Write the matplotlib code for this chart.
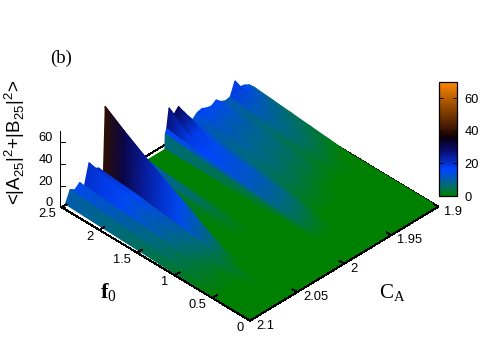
import numpy as np
import matplotlib
matplotlib.use('Agg')
import matplotlib.pyplot as plt
from matplotlib.colors import LinearSegmentedColormap, Normalize
from matplotlib.cm import ScalarMappable

plt.rcParams['font.family'] = ['Liberation Sans']
plt.rcParams['mathtext.fontset'] = 'custom'
plt.rcParams['mathtext.rm'] = 'Liberation Serif'
plt.rcParams['mathtext.bf'] = 'Liberation Serif:bold'
plt.rcParams['mathtext.sf'] = 'Liberation Sans'

# data
f0_values = [2.45, 2.2, 1.95, 1.7, 1.45, 1.2, 0.95, 0.7, 0.45, 0.2, 0]
ca_values = [1.9, 1.905, 1.91, 1.915, 1.92, 1.925, 1.93, 1.935, 1.94, 1.945,
             1.95, 1.955, 1.96, 1.965, 1.97, 1.975, 1.98, 1.985, 1.99, 1.9925,
             1.994, 1.9945, 2.015, 2.02, 2.025, 2.03, 2.035, 2.053, 2.0578,
             2.0599, 2.065, 2.07, 2.075, 2.08, 2.085, 2.09, 2.095, 2.1]
# one row per ca_values entry, one column per f0_values entry
amplitude = [
    [8, 6.4, 4.8, 3.2, 1.6, 0, 0, 0, 0, 0, 0],
    [12.6, 9, 6.5, 4.5, 2.5, 0, 0, 0, 0, 0, 0],
    [15, 10.5, 7.5, 5.5, 3.5, 1, 0, 0, 0, 0, 0],
    [16, 10.5, 7.5, 5.5, 3.5, 1, 0, 0, 0, 0, 0],
    [24, 15, 10.5, 8, 5, 2.5, 0, 0, 0, 0, 0],
    [12, 9, 7, 5.2, 3.4, 1.6, 0, 0, 0, 0, 0],
    [11, 8.5, 6.8, 5, 3.3, 1.5, 0, 0, 0, 0, 0],
    [13, 10, 8, 6.2, 4.4, 2.4, 0.4, 0, 0, 0, 0],
    [17, 12.5, 9.5, 7.5, 5.5, 3.2, 0.5, 0, 0, 0, 0],
    [14, 10.5, 8.5, 6.6, 4.8, 2.7, 0.5, 0, 0, 0, 0],
    [15, 11.5, 9.5, 7.5, 5.6, 3.5, 1.4, 0, 0, 0, 0],
    [17, 12.5, 10, 8, 6, 4, 1.5, 0, 0, 0, 0],
    [16, 12, 10, 8, 6.2, 4.4, 2.3, 0, 0, 0, 0],
    [12, 9.5, 8, 6.4, 5, 3.4, 1.7, 0, 0, 0, 0],
    [18, 13, 10.5, 8.7, 7, 5, 2.6, 0, 0, 0, 0],
    [25, 16, 13, 11, 9.5, 7.5, 4.7, 1.4, 0, 0, 0],
    [32, 20, 16.5, 15, 13.5, 11, 7.4, 3.3, 0, 0, 0],
    [27, 16, 13.5, 12, 10.5, 8, 5.5, 2.8, 0, 0, 0],
    [36, 22, 19, 17.5, 16, 13, 9.7, 5.3, 0.9, 0, 0],
    [18, 15.5, 13, 11, 9, 7, 5, 2.8, 0, 0, 0],
    [14, 12.2, 10.5, 8.7, 6.9, 5.2, 3.4, 1.4, 0, 0, 0],
    [0, 0, 0, 0, 0, 0, 0, 0, 0, 0, 0],
    [0, 0, 0, 0, 0, 0, 0, 0, 0, 0, 0],
    [6, 4.9, 3.8, 2.7, 1.6, 0.4, 0, 0, 0, 0, 0],
    [14, 11.6, 9.2, 6.8, 4.3, 1.9, 0, 0, 0, 0, 0],
    [10, 8.3, 6.6, 4.8, 3.1, 1.4, 0, 0, 0, 0, 0],
    [0, 0, 0, 0, 0, 0, 0, 0, 0, 0, 0],
    [0, 0, 0, 0, 0, 0, 0, 0, 0, 0, 0],
    [73, 61, 50, 40, 30, 20, 10, 0, 0, 0, 0],
    [6, 1, 0, 0, 0, 0, 0, 0, 0, 0, 0],
    [20, 18, 16.5, 14, 11.5, 9, 6.5, 4, 1.5, 0, 0],
    [22, 18.7, 15, 12, 9, 6, 3, 1, 0, 0, 0],
    [30, 26, 22, 17.8, 13.8, 9.7, 5.7, 1.6, 0, 0, 0],
    [11, 9.6, 8.2, 6.8, 5.4, 3.9, 2.5, 1.1, 0, 0, 0],
    [17, 14.8, 12.6, 10.5, 8.3, 6.1, 3.9, 1.7, 0, 0, 0],
    [13, 11.3, 9.7, 8, 6.3, 4.7, 3, 1.3, 0, 0, 0],
    [16, 13.9, 11.9, 9.8, 7.8, 5.7, 3.7, 1.6, 0, 0, 0],
    [5, 4.4, 3.8, 3.3, 2.7, 2.1, 1.5, 0.9, 0.3, 0, 0],
]
f0_ticks = [0, 0.5, 1, 1.5, 2, 2.5]
f0_labels = ['0', '0.5', '1', '1.5', '2', '2.5']
ca_ticks = [1.9, 1.95, 2, 2.05, 2.1]
ca_labels = ['1.9', '1.95', '2', '2.05', '2.1']
z_ticks = [0, 20, 40, 60]

cmap = LinearSegmentedColormap.from_list('pal', [
    (0.0, (0, 0.5, 0)),
    (6/70, (0, 0.43, 0.43)),
    (16/70, (0, 0.27, 1)),
    (28/70, (0.04, 0.04, 0.43)),
    (36/70, (0.04, 0, 0.04)),
    (40/70, (0.2, 0.06, 0)),
    (1.0, (1, 0.53, 0)),
])

# gnuplot style view: linear projection to picture pixels
def project(f, ca, z=0.0):
    f = np.asarray(f, dtype=float)
    ca = np.asarray(ca, dtype=float)
    u = f/2.5
    v = (2.1 - ca)/0.2
    x = 250 - 188.3*u + 188.3*v
    y = 320.7 - 113.4*u - 114*v - 1.083*np.asarray(z, dtype=float)
    return x, y

fig = plt.figure(figsize=(5, 3.5), dpi=100)
ax = fig.add_axes([0, 0, 1, 1])
ax.set_xlim(0, 500)
ax.set_ylim(350, 0)
ax.axis('off')

# box lines that sit behind the surface
for fs, cs in [([2.5, 2.5], [2.1, 1.9]), ([2.5, 0], [1.9, 1.9])]:
    x, y = project(fs, cs)
    ax.plot(x, y, 'k', lw=0.7, antialiased=False, zorder=1)

# surface, painted strip by strip from the back, each strip coloured by
# the mean of its two rows like pm3d does
f_arr = np.array(f0_values)
z_arr = np.array(amplitude)
norm = Normalize(0, 70)
for i in range(len(ca_values) - 1):
    ff = np.vstack([f_arr, f_arr])
    cc = np.vstack([np.full(f_arr.shape, ca_values[i]),
                    np.full(f_arr.shape, ca_values[i+1])])
    zz = z_arr[i:i+2]
    x, y = project(ff, cc, zz)
    col = np.vstack([zz.mean(axis=0), zz.mean(axis=0)])
    ax.pcolormesh(x, y, col, shading='gouraud', cmap=cmap, norm=norm, zorder=2)

# front edges, ticks and tick labels
for fs, cs in [([2.5, 0], [2.1, 2.1]), ([0, 0], [2.1, 1.9])]:
    x, y = project(fs, cs)
    ax.plot(x, y, 'k', lw=0.7, antialiased=False, zorder=3)

for val, lab in zip(f0_ticks, f0_labels):
    x, y = project([val, val], [2.1, 2.095])
    ax.plot(x, y, 'k', lw=0.7, antialiased=False, zorder=3)
    ax.text(x[0] - 6, y[0] + 7, lab, ha='right', va='center', fontsize=9.3)

for val, lab in zip(ca_ticks, ca_labels):
    x, y = project([0.0, 0.06], [val, val])
    ax.plot(x, y, 'k', lw=0.7, antialiased=False, zorder=3)
    ax.text(x[0] + 6, y[0] + 5, lab, ha='left', va='center', fontsize=9.3)

x, y = project([2.5, 2.5], [2.1, 2.1], [0, 70])
ax.plot(x - 1.4, y, 'k', lw=0.7, antialiased=False, zorder=3)
for val in z_ticks:
    x, y = project([2.5, 2.5], [2.1, 2.1], [val, val])
    ax.plot([x[0] - 1.4, x[0] + 3.6], y, 'k', lw=0.7, antialiased=False, zorder=3)
    ax.text(x[0] - 9, y[0] - 4, str(val), ha='right', va='center', fontsize=9.3)

ax.text(61, 58, '(b)', ha='center', va='center', fontsize=13.5,
        family='Liberation Serif')
ax.text(108, 293, r'$\mathbf{f}_{\mathrm{0}}$', ha='center', va='center', fontsize=16)
ax.text(392, 293, r'$\mathrm{C}_{\mathrm{A}}$', ha='center', va='center', fontsize=15)
ax.text(15, 142, r'<|A$_{\mathsf{25}}$|$^{\mathsf{2}}$+|B$_{\mathsf{25}}$|$^{\mathsf{2}}$>',
        rotation=90, ha='center', va='center', fontsize=13.5)

# colorbar
cax = fig.add_axes([439.3/500, 1 - 196/350, 18/500, 114.3/350])
cb = fig.colorbar(ScalarMappable(norm=norm, cmap=cmap), cax=cax)
cb.set_ticks(z_ticks)
cax.tick_params(direction='in', left=True, right=True, length=3, width=0.7,
                labelsize=9.3, pad=5)
cb.outline.set_linewidth(0.9)

fig.savefig('out.png', dpi=100)
